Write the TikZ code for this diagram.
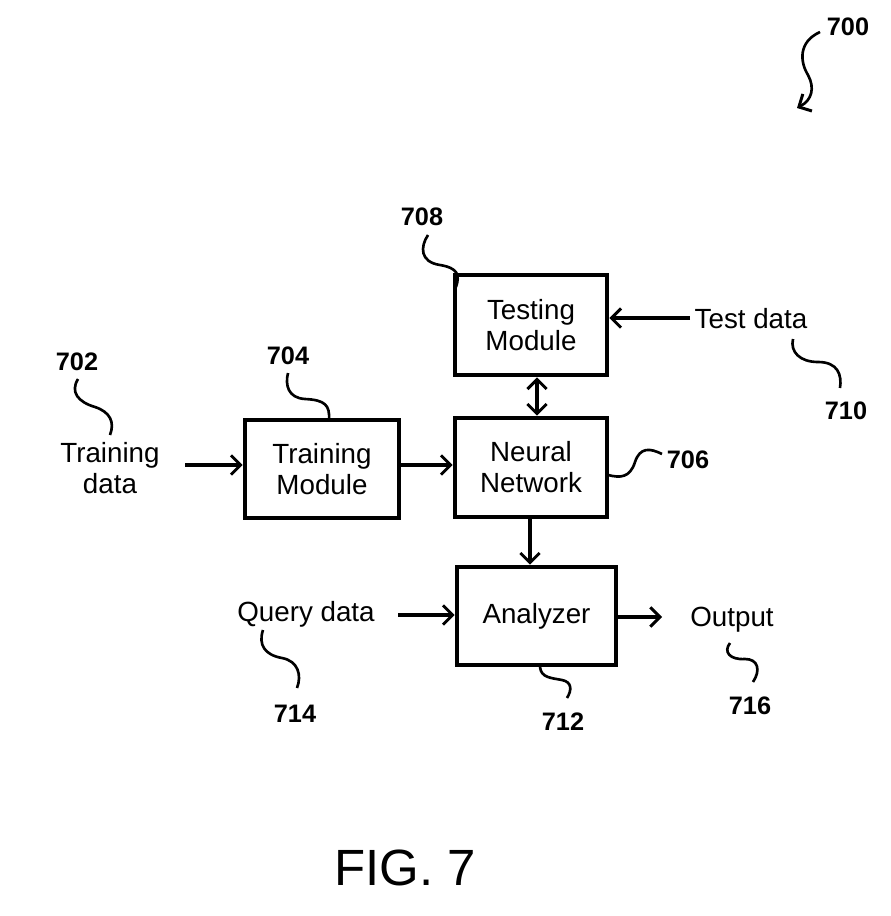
\documentclass[tikz,border=0pt]{standalone}
\usepackage{fontspec}
\setmainfont{Liberation Sans}
\usetikzlibrary{arrows.meta}
\begin{document}
\begin{tikzpicture}[x=0.02cm,y=-0.02cm,
  >={Straight Barb[length=5.5pt,width=11pt,line width=1.7pt]},
  blk/.style={draw,line width=2.6pt,minimum width=3.04cm,minimum height=1.98cm,inner sep=0pt,align=center,font=\fontsize{15.8}{17.6}\selectfont},
  txt/.style={align=center,inner sep=0pt,font=\fontsize{15.8}{17.6}\selectfont},
  num/.style={inner sep=0pt,font=\fontsize{14.4}{16}\selectfont\bfseries},
  conn/.style={line width=1.9pt,->},
  lead/.style={line width=1.5pt},
  leadarrow/.style={line width=1.5pt,->}]
\useasboundingbox (0,0) rectangle (891,916);
% blocks
\node[blk,minimum width=3.04cm,minimum height=2.0cm] (test) at (531,325) {Testing\\Module};
\node[blk,minimum width=3.08cm,minimum height=1.96cm] (train) at (322,469) {Training\\Module};
\node[blk,minimum width=3.04cm,minimum height=1.98cm] (nn) at (531,467.5) {Neural\\Network};
\node[blk,minimum width=3.18cm,minimum height=1.96cm] (ana) at (536.5,616) {Analyzer};
% texts
\node[txt] (tdata) at (110,468) {Training\\data};
\node[txt] (testdata) at (751,319) {Test data};
\node[txt] (qdata) at (306,614) {Query data};
\node[txt] (out) at (732,620) {Output};
% numbers
\node[num] (n700) at (848,27) {700};
\node[num] (n702) at (77,362) {702};
\node[num] (n704) at (288,356) {704};
\node[num] (n708) at (422,217) {708};
\node[num] (n710) at (846,411) {710};
\node[num] (n706) at (688,460) {706};
\node[num] (n714) at (295,714) {714};
\node[num] (n712) at (563,722) {712};
\node[num] (n716) at (750,706) {716};
\node[font=\fontsize{29}{32}\selectfont,inner sep=0pt] (fig) at (405,868) {FIG. 7};
% connectors
\coordinate (tdEnd) at (185,465);
\coordinate (testdataEnd) at (690,318);
\coordinate (qEnd) at (398,615);
\coordinate (outEnd) at (662,617);
\draw[conn] (tdEnd) -- (tdEnd -| train.west);
\draw[conn] (train.east |- 0,465) -- (nn.west |- 0,465);
\draw[conn] (testdataEnd) -- (testdataEnd -| test.east);
\draw[line width=1.9pt,<->] (test.south -| 537,0) -- (nn.north -| 537,0);
\draw[conn] (nn.south -| 530,0) -- (ana.north -| 530,0);
\draw[conn] (qEnd) -- (qEnd -| ana.west);
\draw[conn] (ana.east |- 0,617) -- (outEnd);
% leaders
\draw[leadarrow] (820,32) .. controls (798,42) and (800,62) .. (808,75) .. controls (815,88) and (812,100) .. (797,108);
\draw[lead] (78,379) .. controls (70,392) and (78,402) .. (95,407) .. controls (110,412) and (115,422) .. (110,435);
\draw[lead] (288,373) .. controls (285,385) and (288,398) .. (305,399) .. controls (325,400) and (330,405) .. (329,420);
\draw[lead] (428,235) .. controls (420,247) and (420,262) .. (440,265) .. controls (458,268) and (460,275) .. (456,287);
\draw[lead] (793,339) .. controls (790,352) and (800,362) .. (818,362) .. controls (838,362) and (842,375) .. (840,388);
\draw[lead] (608,475) .. controls (620,478) and (630,478) .. (635,462) .. controls (640,447) and (650,448) .. (662,454);
\draw[lead] (263,630) .. controls (258,645) and (265,655) .. (282,658) .. controls (298,661) and (302,675) .. (297,688);
\draw[lead] (540,667) .. controls (541,678) and (552,678) .. (562,680) .. controls (572,682) and (572,690) .. (567,698);
\draw[lead] (730,643) .. controls (723,652) and (730,660) .. (745,659) .. controls (758,659) and (761,670) .. (753,682);
\end{tikzpicture}
\end{document}
